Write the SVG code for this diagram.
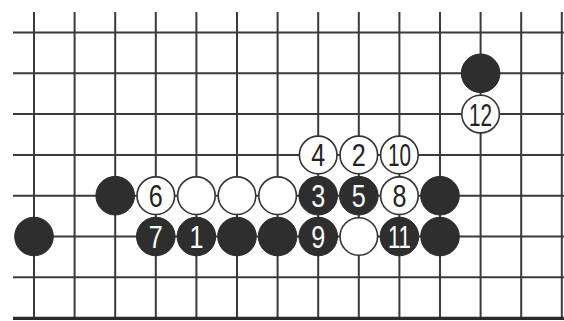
<svg xmlns="http://www.w3.org/2000/svg" width="564" height="321" viewBox="0 0 564 321">
<style>
.g{stroke:#3a3a3a;stroke-width:2;fill:none}
.edge{stroke:#2a2a2a;stroke-width:3.2}
.b{fill:#2e2e2e;stroke:#2a2a2a;stroke-width:1}
.w{fill:#fff;stroke:#333;stroke-width:1.6}
.tb,.tw{font-family:"Liberation Sans",Arial,sans-serif;font-size:31px;text-anchor:middle;dominant-baseline:central}
.tb{fill:#fff}
.tw{fill:#222}
</style>
<rect width="564" height="321" fill="#fff"/>
<g id="grid">
<g class="g">
<line x1="13" y1="32.5" x2="564" y2="32.5"/>
<line x1="13" y1="73.3" x2="564" y2="73.3"/>
<line x1="13" y1="114.1" x2="564" y2="114.1"/>
<line x1="13" y1="154.9" x2="564" y2="154.9"/>
<line x1="13" y1="195.7" x2="564" y2="195.7"/>
<line x1="53" y1="236.5" x2="564" y2="236.5"/>
<line x1="13" y1="277.3" x2="564" y2="277.3"/>
<line x1="34" y1="12" x2="34" y2="318"/>
<line x1="74.6" y1="12" x2="74.6" y2="318"/>
<line x1="115.2" y1="12" x2="115.2" y2="318"/>
<line x1="155.8" y1="12" x2="155.8" y2="318"/>
<line x1="196.4" y1="12" x2="196.4" y2="318"/>
<line x1="237" y1="12" x2="237" y2="318"/>
<line x1="277.6" y1="12" x2="277.6" y2="318"/>
<line x1="318.2" y1="12" x2="318.2" y2="318"/>
<line x1="358.8" y1="12" x2="358.8" y2="318"/>
<line x1="399.4" y1="12" x2="399.4" y2="318"/>
<line x1="440" y1="12" x2="440" y2="318"/>
<line x1="480.6" y1="12" x2="480.6" y2="318"/>
<line x1="521.2" y1="12" x2="521.2" y2="318"/>
<line x1="561.8" y1="12" x2="561.8" y2="318"/>
</g>
<line class="edge" x1="13" y1="318.3" x2="564" y2="318.3"/>
</g>
<g id="stones">
<g id="s-b-11-1"><circle class="b" cx="480.6" cy="73.3" r="19.3"/></g>
<g id="s-w12"><circle class="w" cx="480.6" cy="114.1" r="18.8"/><text class="tw" x="480.6" y="115.1" textLength="23" lengthAdjust="spacingAndGlyphs">12</text></g>
<g id="s-w4"><circle class="w" cx="318.2" cy="154.9" r="18.8"/><text class="tw" x="318.2" y="155.9" textLength="14" lengthAdjust="spacingAndGlyphs">4</text></g>
<g id="s-w2"><circle class="w" cx="358.8" cy="154.9" r="18.8"/><text class="tw" x="358.8" y="155.9" textLength="14" lengthAdjust="spacingAndGlyphs">2</text></g>
<g id="s-w10"><circle class="w" cx="399.4" cy="154.9" r="18.8"/><text class="tw" x="399.4" y="155.9" textLength="23" lengthAdjust="spacingAndGlyphs">10</text></g>
<g id="s-b-2-4"><circle class="b" cx="115.2" cy="195.7" r="19.3"/></g>
<g id="s-w6"><circle class="w" cx="155.8" cy="195.7" r="18.8"/><text class="tw" x="155.8" y="196.7" textLength="14" lengthAdjust="spacingAndGlyphs">6</text></g>
<g id="s-w-4-4"><circle class="w" cx="196.4" cy="195.7" r="18.8"/></g>
<g id="s-w-5-4"><circle class="w" cx="237" cy="195.7" r="18.8"/></g>
<g id="s-w-6-4"><circle class="w" cx="277.6" cy="195.7" r="18.8"/></g>
<g id="s-b3"><circle class="b" cx="318.2" cy="195.7" r="19.3"/><text class="tb" x="318.2" y="196.7" textLength="14" lengthAdjust="spacingAndGlyphs">3</text></g>
<g id="s-b5"><circle class="b" cx="358.8" cy="195.7" r="19.3"/><text class="tb" x="358.8" y="196.7" textLength="14" lengthAdjust="spacingAndGlyphs">5</text></g>
<g id="s-w8"><circle class="w" cx="399.4" cy="195.7" r="18.8"/><text class="tw" x="399.4" y="196.7" textLength="14" lengthAdjust="spacingAndGlyphs">8</text></g>
<g id="s-b-10-4"><circle class="b" cx="440" cy="195.7" r="19.3"/></g>
<g id="s-b-0-5"><circle class="b" cx="34" cy="236.5" r="19.3"/></g>
<g id="s-b7"><circle class="b" cx="155.8" cy="236.5" r="19.3"/><text class="tb" x="155.8" y="237.5" textLength="14" lengthAdjust="spacingAndGlyphs">7</text></g>
<g id="s-b1"><circle class="b" cx="196.4" cy="236.5" r="19.3"/><text class="tb" x="196.4" y="237.5" textLength="14" lengthAdjust="spacingAndGlyphs">1</text></g>
<g id="s-b-5-5"><circle class="b" cx="237" cy="236.5" r="19.3"/></g>
<g id="s-b-6-5"><circle class="b" cx="277.6" cy="236.5" r="19.3"/></g>
<g id="s-b9"><circle class="b" cx="318.2" cy="236.5" r="19.3"/><text class="tb" x="318.2" y="237.5" textLength="14" lengthAdjust="spacingAndGlyphs">9</text></g>
<g id="s-w-8-5"><circle class="w" cx="358.8" cy="236.5" r="18.8"/></g>
<g id="s-b11"><circle class="b" cx="399.4" cy="236.5" r="19.3"/><text class="tb" x="399.4" y="237.5" textLength="23" lengthAdjust="spacingAndGlyphs">11</text></g>
<g id="s-b-10-5"><circle class="b" cx="440" cy="236.5" r="19.3"/></g>
</g>
</svg>
